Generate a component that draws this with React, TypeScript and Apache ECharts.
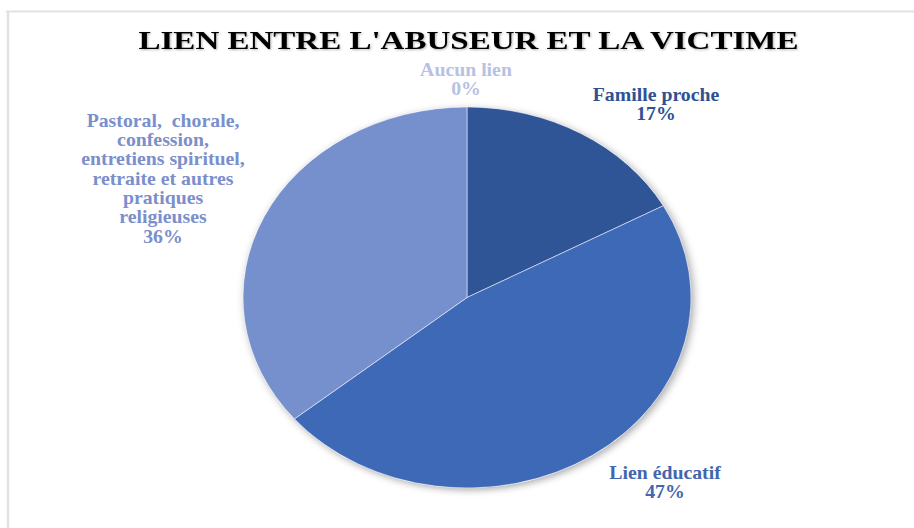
import React, { useEffect, useRef } from "react";
import * as echarts from "echarts";

const TITLE = "LIEN ENTRE L'ABUSEUR ET LA VICTIME";
const CATEGORIES = [
  "Aucun lien",
  "Famille proche",
  "Lien éducatif",
  "Pastoral,  chorale,\nconfession,\nentretiens spirituel,\nretraite et autres\npratiques\nreligieuses",
];
const VALUES = [0, 17, 47, 36];
const SLICE_COLORS = ["#B4C0E4", "#2F5597", "#3E69B6", "#7690CD"];
const LABEL_COLORS = ["#B7C1E3", "#2F5193", "#4266B0", "#7A8FCB"];

// label anchors (layout only): centre x, top y
const LABEL_ANCHORS = [
  [466, 60],
  [656, 85],
  [665, 463],
  [163, 111],
];

const STRETCH = 1.176;
const W = 914;
const H = 528;

export default function App() {
  const mainRef = useRef<HTMLDivElement>(null);
  const pieRef = useRef<HTMLDivElement>(null);

  useEffect(() => {
    const main = echarts.init(mainRef.current!, null, { renderer: "svg" });
    const pie = echarts.init(pieRef.current!, null, { renderer: "svg" });

    const font = "'Liberation Serif', 'Times New Roman', serif";

    const labelGraphics = CATEGORIES.map((name, i) => ({
      type: "text",
      x: LABEL_ANCHORS[i][0],
      y: LABEL_ANCHORS[i][1],
      scaleX: 1.1,
      silent: true,
      style: {
        text: `${name}\n${VALUES[i]}%`,
        fill: LABEL_COLORS[i],
        fontFamily: font,
        fontWeight: "bold",
        fontSize: 18,
        lineHeight: 19.3,
        textAlign: "center",
        textVerticalAlign: "top",
      },
    }));

    main.setOption({
      animation: false,
      backgroundColor: "#ffffff",
      graphic: [
        {
          type: "line",
          silent: true,
          shape: { x1: 6, y1: 11.5, x2: W, y2: 11.5 },
          style: { stroke: "#e2e2e2", lineWidth: 2 },
        },
        {
          type: "line",
          silent: true,
          shape: { x1: 8, y1: 11, x2: 8, y2: H },
          style: { stroke: "#e2e2e2", lineWidth: 2.5 },
        },
        {
          type: "text",
          x: 468.5,
          y: 40,
          scaleX: 1.27,
          silent: true,
          style: {
            text: TITLE,
            fill: "#000000",
            fontFamily: font,
            fontWeight: "bold",
            fontSize: 26,
            textAlign: "center",
            textVerticalAlign: "middle",
            textShadowColor: "rgba(0,0,0,0.3)",
            textShadowBlur: 2,
            textShadowOffsetX: 1,
            textShadowOffsetY: 1,
          },
        },
        ...labelGraphics,
      ],
    });

    const cx = 467 / STRETCH;
    const cy = 297.5;
    const r = 190.5;

    pie.setOption({
      animation: false,
      series: [
        {
          type: "pie",
          silent: true,
          z: 1,
          center: [cx, cy],
          radius: r,
          label: { show: false },
          labelLine: { show: false },
          itemStyle: {
            color: "#ffffff",
            shadowBlur: 7,
            shadowColor: "rgba(0,0,0,0.35)",
            shadowOffsetX: 2,
            shadowOffsetY: 2,
          },
          data: [{ value: 1, name: "shadow" }],
        },
        {
          type: "pie",
          z: 2,
          center: [cx, cy],
          radius: r,
          startAngle: 90,
          clockwise: true,
          label: { show: false },
          labelLine: { show: false },
          itemStyle: { borderColor: "rgba(255,255,255,0.6)", borderWidth: 0.8 },
          data: CATEGORIES.map((name, i) => ({
            name,
            value: VALUES[i],
            itemStyle: { color: SLICE_COLORS[i] },
          })),
        },
      ],
    });

    return () => {
      main.dispose();
      pie.dispose();
    };
  }, []);

  return (
    <div
      style={{
        position: "fixed",
        left: 0,
        top: 0,
        width: W,
        height: H,
        overflow: "hidden",
        background: "#fff",
      }}
    >
      <div
        ref={mainRef}
        style={{ position: "absolute", left: 0, top: 0, width: W, height: H }}
      />
      <div
        ref={pieRef}
        style={{
          position: "absolute",
          left: 0,
          top: 0,
          width: W / STRETCH,
          height: H,
          transform: `scaleX(${STRETCH})`,
          transformOrigin: "0 0",
          pointerEvents: "none",
        }}
      />
    </div>
  );
}
